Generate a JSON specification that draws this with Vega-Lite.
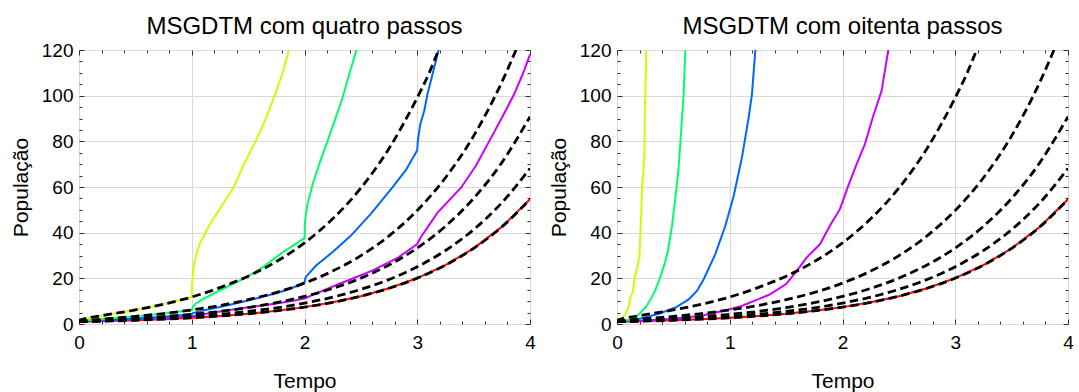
{
  "$schema": "https://vega.github.io/schema/vega-lite/v6.json",
  "padding": {"left": 9, "top": 14, "right": 0, "bottom": 0},
  "config": {
    "font": "Liberation Sans",
    "view": {"stroke": "#222222", "strokeWidth": 1},
    "axis": {"labelFont": "Liberation Sans", "labelFontSize": 19, "labelColor": "black", "titleFont": "Liberation Sans", "titleFontSize": 21, "titleFontWeight": "normal", "titleColor": "black", "domain": false, "tickColor": "#333333", "labelOverlap": false, "labelFlush": false, "gridColor": "#d8d8d8", "minExtent": 0},
    "title": {"font": "Liberation Sans", "fontSize": 24, "fontWeight": "normal", "color": "black"}
  },
  "datasets": {
    "ml": [
      {"a": "1", "t": 0, "y": 1}, {"a": "1", "t": 0.25, "y": 1.284}, {"a": "1", "t": 0.5, "y": 1.649}, {"a": "1", "t": 0.75, "y": 2.117}, {"a": "1", "t": 1, "y": 2.718}, {"a": "1", "t": 1.25, "y": 3.49}, {"a": "1", "t": 1.5, "y": 4.482}, {"a": "1", "t": 1.75, "y": 5.755}, {"a": "1", "t": 2, "y": 7.389}, {"a": "1", "t": 2.25, "y": 9.488}, {"a": "1", "t": 2.5, "y": 12.18}, {"a": "1", "t": 2.75, "y": 15.64}, {"a": "1", "t": 3, "y": 20.09}, {"a": "1", "t": 3.25, "y": 25.79}, {"a": "1", "t": 3.5, "y": 33.12}, {"a": "1", "t": 3.75, "y": 42.52}, {"a": "1", "t": 4, "y": 54.6},
      {"a": "0.8", "t": 0, "y": 1}, {"a": "0.8", "t": 0.05, "y": 1.104}, {"a": "0.8", "t": 0.1, "y": 1.189}, {"a": "0.8", "t": 0.25, "y": 1.444}, {"a": "0.8", "t": 0.5, "y": 1.928}, {"a": "0.8", "t": 0.75, "y": 2.531}, {"a": "0.8", "t": 1, "y": 3.294}, {"a": "0.8", "t": 1.25, "y": 4.27}, {"a": "0.8", "t": 1.5, "y": 5.516}, {"a": "0.8", "t": 1.75, "y": 7.07}, {"a": "0.8", "t": 2, "y": 9.13}, {"a": "0.8", "t": 2.25, "y": 11.77}, {"a": "0.8", "t": 2.5, "y": 15.18}, {"a": "0.8", "t": 2.75, "y": 19.5}, {"a": "0.8", "t": 3, "y": 25.06}, {"a": "0.8", "t": 3.25, "y": 32.18}, {"a": "0.8", "t": 3.5, "y": 41.33}, {"a": "0.8", "t": 3.75, "y": 53.08}, {"a": "0.8", "t": 4, "y": 68.2},
      {"a": "0.6", "t": 0, "y": 1}, {"a": "0.6", "t": 0.05, "y": 1.213}, {"a": "0.6", "t": 0.1, "y": 1.349}, {"a": "0.6", "t": 0.25, "y": 1.724}, {"a": "0.6", "t": 0.5, "y": 2.398}, {"a": "0.6", "t": 0.75, "y": 3.218}, {"a": "0.6", "t": 1, "y": 4.249}, {"a": "0.6", "t": 1.25, "y": 5.5}, {"a": "0.6", "t": 1.5, "y": 7.207}, {"a": "0.6", "t": 1.75, "y": 9.33}, {"a": "0.6", "t": 2, "y": 12.07}, {"a": "0.6", "t": 2.25, "y": 15.58}, {"a": "0.6", "t": 2.5, "y": 20.08}, {"a": "0.6", "t": 2.75, "y": 25.87}, {"a": "0.6", "t": 3, "y": 33.28}, {"a": "0.6", "t": 3.25, "y": 42.79}, {"a": "0.6", "t": 3.5, "y": 55.02}, {"a": "0.6", "t": 3.75, "y": 70.67}, {"a": "0.6", "t": 4, "y": 90.83},
      {"a": "0.4", "t": 0, "y": 1}, {"a": "0.4", "t": 0.02, "y": 1.293}, {"a": "0.4", "t": 0.05, "y": 1.47}, {"a": "0.4", "t": 0.1, "y": 1.7}, {"a": "0.4", "t": 0.25, "y": 2.299}, {"a": "0.4", "t": 0.5, "y": 3.34}, {"a": "0.4", "t": 0.75, "y": 4.589}, {"a": "0.4", "t": 1, "y": 6.148}, {"a": "0.4", "t": 1.25, "y": 8.1}, {"a": "0.4", "t": 1.5, "y": 10.63}, {"a": "0.4", "t": 1.75, "y": 13.8}, {"a": "0.4", "t": 2, "y": 17.89}, {"a": "0.4", "t": 2.25, "y": 23.18}, {"a": "0.4", "t": 2.5, "y": 29.94}, {"a": "0.4", "t": 2.75, "y": 38.61}, {"a": "0.4", "t": 3, "y": 49.75}, {"a": "0.4", "t": 3.25, "y": 64.06}, {"a": "0.4", "t": 3.5, "y": 82.38}, {"a": "0.4", "t": 3.75, "y": 105.9}, {"a": "0.4", "t": 3.876, "y": 120},
      {"a": "0.2", "t": 0, "y": 1}, {"a": "0.2", "t": 0.005, "y": 1.582}, {"a": "0.2", "t": 0.02, "y": 1.921}, {"a": "0.2", "t": 0.05, "y": 2.318}, {"a": "0.2", "t": 0.1, "y": 2.813}, {"a": "0.2", "t": 0.25, "y": 4.057}, {"a": "0.2", "t": 0.5, "y": 6.175}, {"a": "0.2", "t": 0.75, "y": 8.689}, {"a": "0.2", "t": 1, "y": 11.82}, {"a": "0.2", "t": 1.25, "y": 15.95}, {"a": "0.2", "t": 1.5, "y": 20.94}, {"a": "0.2", "t": 1.75, "y": 27.34}, {"a": "0.2", "t": 2, "y": 35.54}, {"a": "0.2", "t": 2.25, "y": 46.06}, {"a": "0.2", "t": 2.5, "y": 59.54}, {"a": "0.2", "t": 2.75, "y": 76.9}, {"a": "0.2", "t": 3, "y": 99.15}, {"a": "0.2", "t": 3.1, "y": 109.3}, {"a": "0.2", "t": 3.189, "y": 120}
    ],
    "L": [
      {"s": "1", "t": 0, "y": 1}, {"s": "1", "t": 0.25, "y": 1.284}, {"s": "1", "t": 0.5, "y": 1.649}, {"s": "1", "t": 0.75, "y": 2.117}, {"s": "1", "t": 1, "y": 2.718}, {"s": "1", "t": 1.25, "y": 3.49}, {"s": "1", "t": 1.5, "y": 4.482}, {"s": "1", "t": 1.75, "y": 5.755}, {"s": "1", "t": 2, "y": 7.389}, {"s": "1", "t": 2.25, "y": 9.488}, {"s": "1", "t": 2.5, "y": 12.18}, {"s": "1", "t": 2.75, "y": 15.64}, {"s": "1", "t": 3, "y": 20.09}, {"s": "1", "t": 3.25, "y": 25.79}, {"s": "1", "t": 3.5, "y": 33.12}, {"s": "1", "t": 3.75, "y": 42.52}, {"s": "1", "t": 4, "y": 54.6},
      {"s": "0.8", "t": 0, "y": 1}, {"s": "0.8", "t": 0.05, "y": 1.104}, {"s": "0.8", "t": 0.1, "y": 1.189}, {"s": "0.8", "t": 0.25, "y": 1.444}, {"s": "0.8", "t": 0.5, "y": 1.928}, {"s": "0.8", "t": 0.75, "y": 2.531}, {"s": "0.8", "t": 1, "y": 3.294}, {"s": "0.8", "t": 1.1, "y": 4.3}, {"s": "0.8", "t": 1.25, "y": 5.5}, {"s": "0.8", "t": 1.5, "y": 7.3}, {"s": "0.8", "t": 1.75, "y": 9.0}, {"s": "0.8", "t": 1.9, "y": 10.2}, {"s": "0.8", "t": 2, "y": 11.2}, {"s": "0.8", "t": 2.1, "y": 13.3}, {"s": "0.8", "t": 2.3, "y": 17.4}, {"s": "0.8", "t": 2.6, "y": 23.4}, {"s": "0.8", "t": 2.83, "y": 29.1}, {"s": "0.8", "t": 3, "y": 35.0}, {"s": "0.8", "t": 3.03, "y": 37.9}, {"s": "0.8", "t": 3.18, "y": 48.8}, {"s": "0.8", "t": 3.39, "y": 59.8}, {"s": "0.8", "t": 3.52, "y": 69.3}, {"s": "0.8", "t": 3.64, "y": 80.2}, {"s": "0.8", "t": 3.76, "y": 91.2}, {"s": "0.8", "t": 3.86, "y": 100.7}, {"s": "0.8", "t": 3.94, "y": 110}, {"s": "0.8", "t": 4, "y": 118},
      {"s": "0.6", "t": 0, "y": 1}, {"s": "0.6", "t": 0.05, "y": 1.213}, {"s": "0.6", "t": 0.1, "y": 1.349}, {"s": "0.6", "t": 0.25, "y": 1.724}, {"s": "0.6", "t": 0.5, "y": 2.398}, {"s": "0.6", "t": 0.75, "y": 3.218}, {"s": "0.6", "t": 1, "y": 4.249}, {"s": "0.6", "t": 1.01, "y": 4.8}, {"s": "0.6", "t": 1.1, "y": 5.9}, {"s": "0.6", "t": 1.3, "y": 8.0}, {"s": "0.6", "t": 1.5, "y": 10.3}, {"s": "0.6", "t": 1.75, "y": 13.5}, {"s": "0.6", "t": 1.9, "y": 16.0}, {"s": "0.6", "t": 2, "y": 18.2}, {"s": "0.6", "t": 2.01, "y": 20.5}, {"s": "0.6", "t": 2.1, "y": 25.5}, {"s": "0.6", "t": 2.25, "y": 31.5}, {"s": "0.6", "t": 2.41, "y": 38.6}, {"s": "0.6", "t": 2.59, "y": 48.3}, {"s": "0.6", "t": 2.78, "y": 59.8}, {"s": "0.6", "t": 2.9, "y": 67.5}, {"s": "0.6", "t": 3, "y": 76.1}, {"s": "0.6", "t": 3.005, "y": 80.2}, {"s": "0.6", "t": 3.027, "y": 87.5}, {"s": "0.6", "t": 3.062, "y": 93.4}, {"s": "0.6", "t": 3.091, "y": 100.7}, {"s": "0.6", "t": 3.136, "y": 109.5}, {"s": "0.6", "t": 3.189, "y": 120},
      {"s": "0.4", "t": 0, "y": 1}, {"s": "0.4", "t": 0.02, "y": 1.293}, {"s": "0.4", "t": 0.05, "y": 1.47}, {"s": "0.4", "t": 0.1, "y": 1.7}, {"s": "0.4", "t": 0.25, "y": 2.299}, {"s": "0.4", "t": 0.5, "y": 3.34}, {"s": "0.4", "t": 0.75, "y": 4.589}, {"s": "0.4", "t": 1, "y": 6.148}, {"s": "0.4", "t": 1.01, "y": 7.4}, {"s": "0.4", "t": 1.035, "y": 8.9}, {"s": "0.4", "t": 1.094, "y": 10.8}, {"s": "0.4", "t": 1.212, "y": 13.8}, {"s": "0.4", "t": 1.389, "y": 18.1}, {"s": "0.4", "t": 1.5, "y": 21}, {"s": "0.4", "t": 1.626, "y": 24.7}, {"s": "0.4", "t": 1.803, "y": 31.3}, {"s": "0.4", "t": 1.915, "y": 34.9}, {"s": "0.4", "t": 2, "y": 37.6}, {"s": "0.4", "t": 2.003, "y": 43.7}, {"s": "0.4", "t": 2.012, "y": 48}, {"s": "0.4", "t": 2.027, "y": 52.5}, {"s": "0.4", "t": 2.072, "y": 61.2}, {"s": "0.4", "t": 2.131, "y": 70}, {"s": "0.4", "t": 2.205, "y": 80.2}, {"s": "0.4", "t": 2.278, "y": 90.5}, {"s": "0.4", "t": 2.338, "y": 99.2}, {"s": "0.4", "t": 2.397, "y": 109.5}, {"s": "0.4", "t": 2.462, "y": 120},
      {"s": "0.2", "t": 0, "y": 1}, {"s": "0.2", "t": 0.005, "y": 1.582}, {"s": "0.2", "t": 0.02, "y": 1.921}, {"s": "0.2", "t": 0.05, "y": 2.318}, {"s": "0.2", "t": 0.1, "y": 2.813}, {"s": "0.2", "t": 0.25, "y": 4.057}, {"s": "0.2", "t": 0.5, "y": 6.175}, {"s": "0.2", "t": 0.75, "y": 8.689}, {"s": "0.2", "t": 1, "y": 11.82}, {"s": "0.2", "t": 1.003, "y": 17}, {"s": "0.2", "t": 1.008, "y": 21}, {"s": "0.2", "t": 1.02, "y": 26}, {"s": "0.2", "t": 1.04, "y": 30.5}, {"s": "0.2", "t": 1.07, "y": 35}, {"s": "0.2", "t": 1.153, "y": 43}, {"s": "0.2", "t": 1.256, "y": 51}, {"s": "0.2", "t": 1.374, "y": 60.1}, {"s": "0.2", "t": 1.463, "y": 70}, {"s": "0.2", "t": 1.566, "y": 80}, {"s": "0.2", "t": 1.655, "y": 89.7}, {"s": "0.2", "t": 1.735, "y": 100}, {"s": "0.2", "t": 1.803, "y": 109.5}, {"s": "0.2", "t": 1.862, "y": 120}
    ],
    "R": [
      {"s": "1", "t": 0, "y": 1}, {"s": "1", "t": 0.25, "y": 1.284}, {"s": "1", "t": 0.5, "y": 1.649}, {"s": "1", "t": 0.75, "y": 2.117}, {"s": "1", "t": 1, "y": 2.718}, {"s": "1", "t": 1.25, "y": 3.49}, {"s": "1", "t": 1.5, "y": 4.482}, {"s": "1", "t": 1.75, "y": 5.755}, {"s": "1", "t": 2, "y": 7.389}, {"s": "1", "t": 2.25, "y": 9.488}, {"s": "1", "t": 2.5, "y": 12.18}, {"s": "1", "t": 2.75, "y": 15.64}, {"s": "1", "t": 3, "y": 20.09}, {"s": "1", "t": 3.25, "y": 25.79}, {"s": "1", "t": 3.5, "y": 33.12}, {"s": "1", "t": 3.75, "y": 42.52}, {"s": "1", "t": 4, "y": 54.6},
      {"s": "0.8", "t": 0, "y": 1}, {"s": "0.8", "t": 0.25, "y": 1.5}, {"s": "0.8", "t": 0.5, "y": 2.3}, {"s": "0.8", "t": 0.75, "y": 3.6}, {"s": "0.8", "t": 1, "y": 6.5}, {"s": "0.8", "t": 1.1, "y": 7.8}, {"s": "0.8", "t": 1.25, "y": 10.8}, {"s": "0.8", "t": 1.35, "y": 12.8}, {"s": "0.8", "t": 1.5, "y": 17.5}, {"s": "0.8", "t": 1.593, "y": 23.2}, {"s": "0.8", "t": 1.682, "y": 29.1}, {"s": "0.8", "t": 1.8, "y": 34.9}, {"s": "0.8", "t": 1.888, "y": 43}, {"s": "0.8", "t": 1.977, "y": 50.3}, {"s": "0.8", "t": 2.051, "y": 60.5}, {"s": "0.8", "t": 2.125, "y": 70}, {"s": "0.8", "t": 2.199, "y": 78.8}, {"s": "0.8", "t": 2.273, "y": 91.2}, {"s": "0.8", "t": 2.347, "y": 102.1}, {"s": "0.8", "t": 2.406, "y": 120},
      {"s": "0.6", "t": 0, "y": 1}, {"s": "0.6", "t": 0.1, "y": 1.5}, {"s": "0.6", "t": 0.222, "y": 2.5}, {"s": "0.6", "t": 0.37, "y": 4.5}, {"s": "0.6", "t": 0.518, "y": 7.2}, {"s": "0.6", "t": 0.636, "y": 10.8}, {"s": "0.6", "t": 0.709, "y": 14.5}, {"s": "0.6", "t": 0.769, "y": 19.6}, {"s": "0.6", "t": 0.872, "y": 30.6}, {"s": "0.6", "t": 0.961, "y": 43}, {"s": "0.6", "t": 1.035, "y": 56.1}, {"s": "0.6", "t": 1.108, "y": 72.9}, {"s": "0.6", "t": 1.168, "y": 90.5}, {"s": "0.6", "t": 1.197, "y": 100.7}, {"s": "0.6", "t": 1.227, "y": 120},
      {"s": "0.4", "t": 0, "y": 1}, {"s": "0.4", "t": 0.07, "y": 1.5}, {"s": "0.4", "t": 0.145, "y": 2.2}, {"s": "0.4", "t": 0.2, "y": 4.5}, {"s": "0.4", "t": 0.263, "y": 7.9}, {"s": "0.4", "t": 0.3, "y": 11}, {"s": "0.4", "t": 0.337, "y": 14.5}, {"s": "0.4", "t": 0.38, "y": 20}, {"s": "0.4", "t": 0.42, "y": 26}, {"s": "0.4", "t": 0.452, "y": 32}, {"s": "0.4", "t": 0.488, "y": 43}, {"s": "0.4", "t": 0.518, "y": 55.4}, {"s": "0.4", "t": 0.547, "y": 68.6}, {"s": "0.4", "t": 0.571, "y": 86.1}, {"s": "0.4", "t": 0.591, "y": 100.7}, {"s": "0.4", "t": 0.606, "y": 120},
      {"s": "0.2", "t": 0, "y": 1}, {"s": "0.2", "t": 0.02, "y": 1.8}, {"s": "0.2", "t": 0.044, "y": 2.8}, {"s": "0.2", "t": 0.07, "y": 4}, {"s": "0.2", "t": 0.089, "y": 5.7}, {"s": "0.2", "t": 0.105, "y": 8}, {"s": "0.2", "t": 0.118, "y": 11.6}, {"s": "0.2", "t": 0.14, "y": 14}, {"s": "0.2", "t": 0.157, "y": 20.3}, {"s": "0.2", "t": 0.18, "y": 25}, {"s": "0.2", "t": 0.198, "y": 29.1}, {"s": "0.2", "t": 0.207, "y": 40}, {"s": "0.2", "t": 0.216, "y": 50}, {"s": "0.2", "t": 0.222, "y": 60}, {"s": "0.2", "t": 0.235, "y": 67}, {"s": "0.2", "t": 0.243, "y": 74.4}, {"s": "0.2", "t": 0.246, "y": 90.5}, {"s": "0.2", "t": 0.251, "y": 100.7}, {"s": "0.2", "t": 0.26, "y": 120}
    ]
  },
  "spacing": 11,
  "hconcat": [
    {
      "width": 451, "height": 274,
      "title": {"text": "MSGDTM com quatro passos", "baseline": "alphabetic", "offset": -17},
      "resolve": {"axis": {"x": "independent", "y": "independent"}},
      "layer": [
        {
          "data": {"name": "L"},
          "mark": {"type": "line", "strokeWidth": 2, "clip": true},
          "encoding": {
            "x": {"field": "t", "type": "quantitative", "scale": {"domain": [0, 4], "nice": false},
              "axis": {"orient": "bottom", "title": "Tempo", "values": [0,0.2,0.4,0.6,0.8,1,1.2,1.4,1.6,1.8,2,2.2,2.4,2.6,2.8,3,3.2,3.4,3.6,3.8,4], "labelExpr": "datum.value % 1 === 0 ? format(datum.value, 'd') : ''", "grid": true, "gridOpacity": {"condition": {"test": "datum.value % 1 === 0", "value": 1}, "value": 0}, "tickSize": {"condition": {"test": "datum.value % 1 === 0", "value": -5}, "value": -3}, "labelPadding": 14, "titlePadding": 16}},
            "y": {"field": "y", "type": "quantitative", "scale": {"domain": [0, 120], "nice": false},
              "axis": {"orient": "left", "title": "População", "values": [0,5,10,15,20,25,30,35,40,45,50,55,60,65,70,75,80,85,90,95,100,105,110,115,120], "labelExpr": "datum.value % 20 === 0 ? format(datum.value, 'd') : ''", "grid": true, "gridOpacity": {"condition": {"test": "datum.value % 20 === 0", "value": 1}, "value": 0}, "tickSize": {"condition": {"test": "datum.value % 20 === 0", "value": -5}, "value": -3}, "labelPadding": 11, "titlePadding": 10}},
            "color": {"field": "s", "type": "nominal", "scale": {"domain": ["0.2","0.4","0.6","0.8","1"], "range": ["#ccff00","#00ff66","#0066ff","#cc00ff","#ff0000"]}, "legend": null}
          }
        },
        {
          "data": {"name": "ml"},
          "mark": {"type": "line", "strokeWidth": 2.8, "strokeDash": [8.5, 4.5], "color": "black", "clip": true, "interpolate": "monotone"},
          "encoding": {
            "x": {"field": "t", "type": "quantitative", "scale": {"domain": [0, 4], "nice": false},
              "axis": {"orient": "top", "title": null, "values": [0,0.2,0.4,0.6,0.8,1,1.2,1.4,1.6,1.8,2,2.2,2.4,2.6,2.8,3,3.2,3.4,3.6,3.8,4], "labels": false, "grid": false, "minExtent": 0, "maxExtent": 0, "tickSize": {"condition": {"test": "datum.value % 1 === 0", "value": -5}, "value": -3}}},
            "y": {"field": "y", "type": "quantitative", "scale": {"domain": [0, 120], "nice": false},
              "axis": {"orient": "right", "title": null, "values": [0,5,10,15,20,25,30,35,40,45,50,55,60,65,70,75,80,85,90,95,100,105,110,115,120], "labels": false, "grid": false, "minExtent": 0, "maxExtent": 0, "tickSize": {"condition": {"test": "datum.value % 20 === 0", "value": -5}, "value": -3}}},
            "detail": {"field": "a", "type": "nominal"}
          }
        }
      ]
    },
    {
      "width": 451, "height": 274,
      "title": {"text": "MSGDTM com oitenta passos", "baseline": "alphabetic", "offset": -17},
      "resolve": {"axis": {"x": "independent", "y": "independent"}},
      "layer": [
        {
          "data": {"name": "R"},
          "mark": {"type": "line", "strokeWidth": 2, "clip": true},
          "encoding": {
            "x": {"field": "t", "type": "quantitative", "scale": {"domain": [0, 4], "nice": false},
              "axis": {"orient": "bottom", "title": "Tempo", "values": [0,0.2,0.4,0.6,0.8,1,1.2,1.4,1.6,1.8,2,2.2,2.4,2.6,2.8,3,3.2,3.4,3.6,3.8,4], "labelExpr": "datum.value % 1 === 0 ? format(datum.value, 'd') : ''", "grid": true, "gridOpacity": {"condition": {"test": "datum.value % 1 === 0", "value": 1}, "value": 0}, "tickSize": {"condition": {"test": "datum.value % 1 === 0", "value": -5}, "value": -3}, "labelPadding": 14, "titlePadding": 16}},
            "y": {"field": "y", "type": "quantitative", "scale": {"domain": [0, 120], "nice": false},
              "axis": {"orient": "left", "title": "População", "values": [0,5,10,15,20,25,30,35,40,45,50,55,60,65,70,75,80,85,90,95,100,105,110,115,120], "labelExpr": "datum.value % 20 === 0 ? format(datum.value, 'd') : ''", "grid": true, "gridOpacity": {"condition": {"test": "datum.value % 20 === 0", "value": 1}, "value": 0}, "tickSize": {"condition": {"test": "datum.value % 20 === 0", "value": -5}, "value": -3}, "labelPadding": 11, "titlePadding": 10}},
            "color": {"field": "s", "type": "nominal", "scale": {"domain": ["0.2","0.4","0.6","0.8","1"], "range": ["#ccff00","#00ff66","#0066ff","#cc00ff","#ff0000"]}, "legend": null}
          }
        },
        {
          "data": {"name": "ml"},
          "mark": {"type": "line", "strokeWidth": 2.8, "strokeDash": [8.5, 4.5], "color": "black", "clip": true, "interpolate": "monotone"},
          "encoding": {
            "x": {"field": "t", "type": "quantitative", "scale": {"domain": [0, 4], "nice": false},
              "axis": {"orient": "top", "title": null, "values": [0,0.2,0.4,0.6,0.8,1,1.2,1.4,1.6,1.8,2,2.2,2.4,2.6,2.8,3,3.2,3.4,3.6,3.8,4], "labels": false, "grid": false, "minExtent": 0, "maxExtent": 0, "tickSize": {"condition": {"test": "datum.value % 1 === 0", "value": -5}, "value": -3}}},
            "y": {"field": "y", "type": "quantitative", "scale": {"domain": [0, 120], "nice": false},
              "axis": {"orient": "right", "title": null, "values": [0,5,10,15,20,25,30,35,40,45,50,55,60,65,70,75,80,85,90,95,100,105,110,115,120], "labels": false, "grid": false, "minExtent": 0, "maxExtent": 0, "tickSize": {"condition": {"test": "datum.value % 20 === 0", "value": -5}, "value": -3}}},
            "detail": {"field": "a", "type": "nominal"}
          }
        }
      ]
    }
  ]
}
